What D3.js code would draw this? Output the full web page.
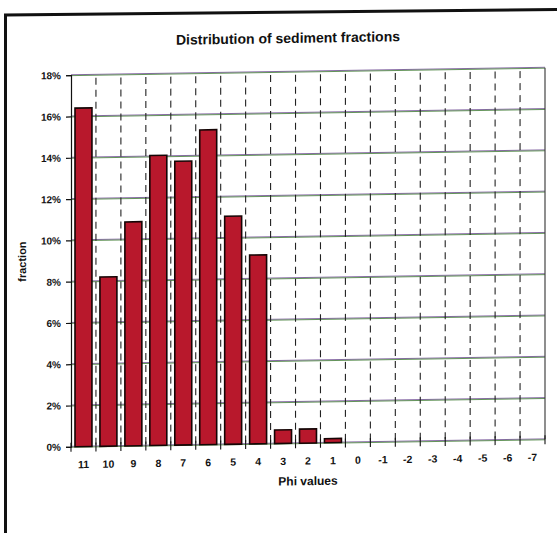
<!DOCTYPE html>
<html>
<head>
<meta charset="utf-8">
<script src="https://cdn.jsdelivr.net/npm/d3@7"></script>
<style>
body { margin: 0; background: #fff; }
text { font-family: "Liberation Sans", Arial, sans-serif; font-weight: bold; fill: #111; }
</style>
</head>
<body>
<div id="chart"></div>
<script>
// data
var phiValues = ["11", "10", "9", "8", "7", "6", "5", "4", "3", "2", "1", "0", "-1", "-2", "-3", "-4", "-5", "-6", "-7"];
var fractions = [16.4, 8.2, 10.85, 14.05, 13.75, 15.25, 11.05, 9.15, 0.66, 0.68, 0.2, 0, 0, 0, 0, 0, 0, 0, 0];
var yTickValues = [0, 2, 4, 6, 8, 10, 12, 14, 16, 18];

var w = 557;
var h = 533;
// note: "top" is taken by window.top, so use other names
var plotLeft = 71, plotRight = 545, plotTop = 76.3, plotBottom = 447.9;

var svg = d3.select("#chart").append("svg")
	.attr("width", w)
	.attr("height", h);

// outer frame of the chart object (partly cut off in the scan)
svg.append("path")
	.attr("d", "M5.5,545 L5.5,15 L565,9.5")
	.attr("fill", "none")
	.attr("stroke", "#111")
	.attr("stroke-width", 3);

// the scan is slightly skewed
var g = svg.append("g")
	.attr("transform", "skewY(-0.9)");

var xScale = d3.scaleBand()
	.domain(phiValues)
	.range([plotLeft, plotRight])
	.paddingInner(0.32)
	.paddingOuter(0.16);

var yScale = d3.scaleLinear()
	.domain([0, 18])
	.range([plotBottom, plotTop]);

// boundaries between categories
var boundaries = phiValues.map(function(d, i) {
	return plotLeft + i * (plotRight - plotLeft) / phiValues.length;
});

// horizontal gridlines (purple / green fringe from the scan)
g.selectAll(".gridP")
	.data(yTickValues)
	.enter()
	.append("line")
	.attr("x1", plotLeft)
	.attr("x2", plotRight)
	.attr("y1", function(d) { return yScale(d) - 0.45; })
	.attr("y2", function(d) { return yScale(d) - 0.45; })
	.attr("stroke", "#6a4690")
	.attr("stroke-width", 0.8);

g.selectAll(".gridG")
	.data(yTickValues)
	.enter()
	.append("line")
	.attr("x1", plotLeft)
	.attr("x2", plotRight)
	.attr("y1", function(d) { return yScale(d) + 0.45; })
	.attr("y2", function(d) { return yScale(d) + 0.45; })
	.attr("stroke", "#3f7c32")
	.attr("stroke-width", 0.8);

// dashed vertical lines
g.selectAll(".vgrid")
	.data(boundaries.slice(1))
	.enter()
	.append("line")
	.attr("x1", function(d) { return d; })
	.attr("x2", function(d) { return d; })
	.attr("y1", plotTop + 3)
	.attr("y2", plotBottom)
	.attr("stroke", "#222")
	.attr("stroke-width", 1.1)
	.attr("stroke-dasharray", "7,5");

// right border
g.append("line")
	.attr("x1", plotRight).attr("x2", plotRight)
	.attr("y1", plotTop).attr("y2", plotBottom)
	.attr("stroke", "#444")
	.attr("stroke-width", 1.2);

// bars
g.selectAll(".bar")
	.data(fractions)
	.enter()
	.append("rect")
	.attr("x", function(d, i) { return xScale(phiValues[i]); })
	.attr("y", function(d) { return yScale(d); })
	.attr("width", xScale.bandwidth())
	.attr("height", function(d) { return plotBottom - yScale(d); })
	.attr("fill", function(d) { return d > 0 ? "#b8182c" : "none"; })
	.attr("stroke", function(d) { return d > 0 ? "#150505" : "none"; })
	.attr("stroke-width", 1.6);

// axes
var yAxis = d3.axisLeft(yScale)
	.tickValues(yTickValues)
	.tickSize(5)
	.tickPadding(5)
	.tickFormat(function(d) { return d + "%"; });

var yG = g.append("g")
	.attr("transform", "translate(" + plotLeft + ",0)")
	.call(yAxis);
yG.select(".domain").attr("stroke", "#111").attr("stroke-width", 1.2);
yG.selectAll(".tick line").attr("stroke", "#111").attr("stroke-width", 1.2);
yG.selectAll("text")
	.style("font-family", "'Liberation Sans', Arial, sans-serif")
	.style("font-weight", "bold")
	.style("font-size", "10px")
	.attr("fill", "#111");

var xAxis = d3.axisBottom(xScale)
	.tickSize(0)
	.tickPadding(14);

var xG = g.append("g")
	.attr("transform", "translate(0," + plotBottom + ")")
	.call(xAxis);
xG.select(".domain").remove();
xG.selectAll("text")
	.style("font-family", "'Liberation Sans', Arial, sans-serif")
	.style("font-weight", "bold")
	.style("font-size", "10.5px")
	.attr("fill", "#111");

// ticks at category boundaries below the axis
g.selectAll(".xtick")
	.data(boundaries.concat([plotRight]))
	.enter()
	.append("line")
	.attr("x1", function(d) { return d; })
	.attr("x2", function(d) { return d; })
	.attr("y1", plotBottom - 4)
	.attr("y2", plotBottom + 5)
	.attr("stroke", "#111")
	.attr("stroke-width", 1.1);

// titles
g.append("text")
	.attr("x", 288)
	.attr("y", 47.5)
	.attr("text-anchor", "middle")
	.style("font-size", "14px")
	.text("Distribution of sediment fractions");

g.append("text")
	.attr("x", 308)
	.attr("y", 490)
	.attr("text-anchor", "middle")
	.style("font-size", "12px")
	.text("Phi values");

g.append("text")
	.attr("transform", "translate(26,262) rotate(-90)")
	.attr("text-anchor", "middle")
	.style("font-size", "11px")
	.text("fraction");
</script>
</body>
</html>
